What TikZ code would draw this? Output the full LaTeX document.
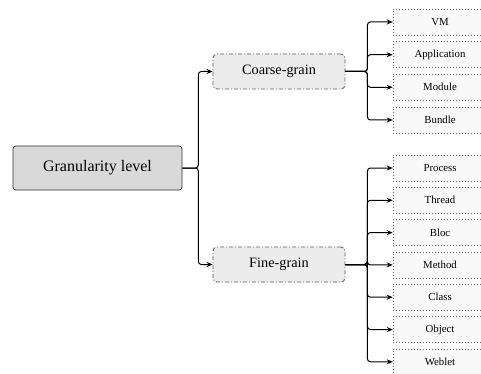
\documentclass[tikz,border=0pt]{standalone}
\usepackage{fontspec}
\setmainfont{Liberation Serif}
\usetikzlibrary{arrows.meta}
\definecolor{rootfill}{HTML}{D9D9D9}
\definecolor{midfill}{HTML}{ECECEC}
\definecolor{leaffill}{HTML}{F9F9F9}
\tikzset{
  rootbox/.style={draw=black!80, fill=rootfill, rounded corners=3pt, line width=0.7pt,
    minimum width=169pt, minimum height=44pt, inner sep=0pt,
    font=\fontsize{16}{18}\selectfont},
  midbox/.style={draw=black!65, fill=midfill, rounded corners=4pt, line width=0.8pt,
    dash pattern=on 4pt off 2pt on 1pt off 2pt,
    minimum width=132pt, minimum height=35pt, inner sep=0pt,
    font=\fontsize{14.3}{16}\selectfont},
  leafbox/.style={draw=black!60, fill=leaffill, line width=0.6pt,
    dash pattern=on 0.8pt off 2.2pt,
    minimum width=94pt, minimum height=26pt, inner sep=0pt,
    font=\fontsize{10.8}{12}\selectfont},
  conn/.style={draw=black, line width=1pt, rounded corners=3pt},
  arr/.style={conn, -{Stealth[length=6pt,width=5pt]}}
}
\begin{document}
\begin{tikzpicture}[x=1pt,y=-1pt]
\useasboundingbox (0,0) rectangle (481,374);
\clip (0,0) rectangle (481,374);
\node[rootbox] (root) at (97.5,168) {Granularity level};
\node[midbox] (coarse) at (279,71.5) {Coarse-grain};
\node[midbox] (fine) at (279,264.5) {Fine-grain};

\node[leafbox] (vm) at (440,22) {VM};
\node[leafbox] (app) at (440,54.7) {Application};
\node[leafbox] (mod) at (440,87.3) {Module};
\node[leafbox] (bun) at (440,120) {Bundle};

\node[leafbox] (proc) at (440,168) {Process};
\node[leafbox] (thr) at (440,200.3) {Thread};
\node[leafbox] (bloc) at (440,232.6) {Bloc};
\node[leafbox] (meth) at (440,264.9) {Method};
\node[leafbox] (cls) at (440,297.2) {Class};
\node[leafbox] (obj) at (440,329.5) {Object};
\node[leafbox] (web) at (440,361.8) {Weblet};

\draw[arr] (root.east) -- ++(16,0) |- (coarse.west);
\draw[arr] (root.east) -- ++(16,0) |- (fine.west);

\foreach \t in {vm,app,mod,bun}
  \draw[arr] (coarse.east) -- ++(22,0) |- (\t.west);
\foreach \t in {proc,thr,bloc,meth,cls,obj,web}
  \draw[arr] (fine.east) -- ++(22,0) |- (\t.west);
\end{tikzpicture}
\end{document}
